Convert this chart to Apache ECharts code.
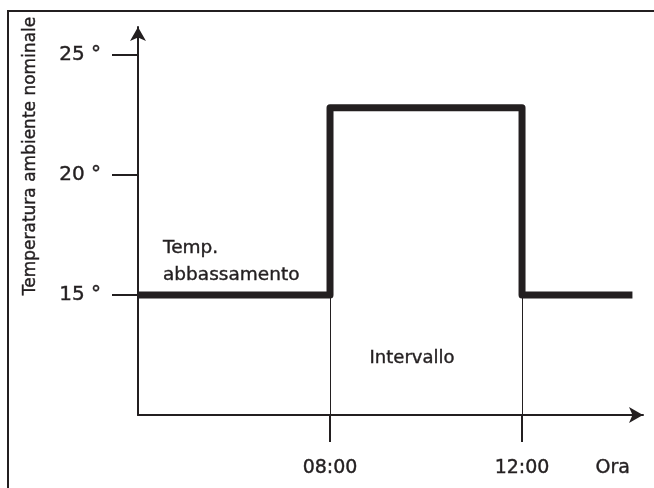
<!DOCTYPE html>
<html>
<head>
<meta charset="utf-8">
<script src="https://cdn.jsdelivr.net/npm/echarts@6/dist/echarts.min.js"></script>
<style>
  html, body { margin: 0; padding: 0; background: #fff; }
  #chart { width: 654px; height: 488px; }
</style>
</head>
<body>
<div id="chart"></div>
<script>
// Room temperature setpoint over the day: setback level, then a heating interval
const switchHours = [4, 8, 12, 14.3];      // hour at which each level starts (last = end of line)
const setpoints   = [15, 22.8, 15, 15];     // nominal room temperature, °C
const tickHours   = [8, 12];
const tickLabels  = ['08:00', '12:00'];
const tempTicks   = [15, 20, 25];
const setbackTemp = 15;
const axisTitle   = 'Temperatura ambiente nominale';
const timeTitle   = 'Ora';
const setbackNote = 'Temp.\nabbassamento';
const intervalNote = 'Intervallo';

const INK = '#231f20';
const FONT = 'DejaVu Sans';
const Y_MIN = 10;

const stepData = switchHours.map((h, i) => [h, setpoints[i]]);
const dropLines = tickHours.map(h => ({ coords: [[h, Y_MIN], [h, setbackTemp]] }));

// slightly heavier glyph strokes, for a denser print look
const heavy = { textBorderColor: INK, textBorderWidth: 0.4 };        // axis text
const heavyGraphic = { stroke: INK, lineWidth: 0.4 };                 // graphic text

const chart = echarts.init(document.getElementById('chart'), null, { renderer: 'canvas' });

chart.setOption({
  animation: false,
  backgroundColor: '#fff',
  textStyle: { fontFamily: FONT, color: INK },
  grid: { left: 138, right: 11, top: 27, bottom: 73 },
  xAxis: {
    type: 'value',
    min: 4,
    max: 14.52,
    splitLine: { show: false },
    axisLine: {
      symbol: ['none', 'arrow'],
      symbolSize: [12, 14],
      lineStyle: { color: INK, width: 2 }
    },
    axisTick: {
      customValues: tickHours,
      length: 27,
      lineStyle: { color: INK, width: 2 }
    },
    axisLabel: Object.assign({
      customValues: tickHours,
      formatter: v => tickLabels[tickHours.indexOf(v)],
      margin: 44,
      fontSize: 19,
      color: INK,
      fontFamily: FONT
    }, heavy),
    name: timeTitle,
    nameLocation: 'end',
    nameGap: -13,
    nameTextStyle: Object.assign({
      align: 'right',
      verticalAlign: 'top',
      padding: [44, 0, 0, 0],
      fontSize: 19,
      color: INK,
      fontFamily: FONT
    }, heavy)
  },
  yAxis: {
    type: 'value',
    min: Y_MIN,
    max: 26.167,
    splitLine: { show: false },
    axisLine: {
      symbol: ['none', 'arrow'],
      symbolSize: [12, 14],
      lineStyle: { color: INK, width: 2 }
    },
    axisTick: {
      customValues: tempTicks,
      length: 26,
      lineStyle: { color: INK, width: 2 }
    },
    axisLabel: Object.assign({
      customValues: tempTicks,
      formatter: v => v + ' °',
      margin: 37,
      fontSize: 20,
      color: INK,
      fontFamily: FONT
    }, heavy)
  },
  series: [
    {
      type: 'lines',
      coordinateSystem: 'cartesian2d',
      silent: true,
      z: 1,
      lineStyle: { color: INK, width: 1, opacity: 1 },
      data: dropLines
    },
    {
      type: 'line',
      step: 'end',
      symbol: 'none',
      silent: true,
      z: 3,
      lineStyle: { color: INK, width: 7, join: 'round', cap: 'butt' },
      data: stepData
    }
  ],
  graphic: [
    {
      type: 'rect',
      shape: { x: 8, y: 11, width: 720, height: 600 },
      style: { fill: 'none', stroke: INK, lineWidth: 2 },
      silent: true
    },
    {
      type: 'text',
      x: 31, y: 156,
      rotation: Math.PI / 2,
      style: Object.assign({
        text: axisTitle,
        fill: INK,
        font: '17px "DejaVu Sans"',
        align: 'center',
        verticalAlign: 'middle'
      }, heavyGraphic)
    },
    {
      type: 'text',
      x: 163, y: 235,
      style: Object.assign({
        text: setbackNote,
        fill: INK,
        font: '18.5px "DejaVu Sans"',
        lineHeight: 27,
        align: 'left',
        verticalAlign: 'top'
      }, heavyGraphic)
    },
    {
      type: 'text',
      x: 412, y: 358,
      style: Object.assign({
        text: intervalNote,
        fill: INK,
        font: '18px "DejaVu Sans"',
        align: 'center',
        verticalAlign: 'middle'
      }, heavyGraphic)
    }
  ]
});
</script>
</body>
</html>
